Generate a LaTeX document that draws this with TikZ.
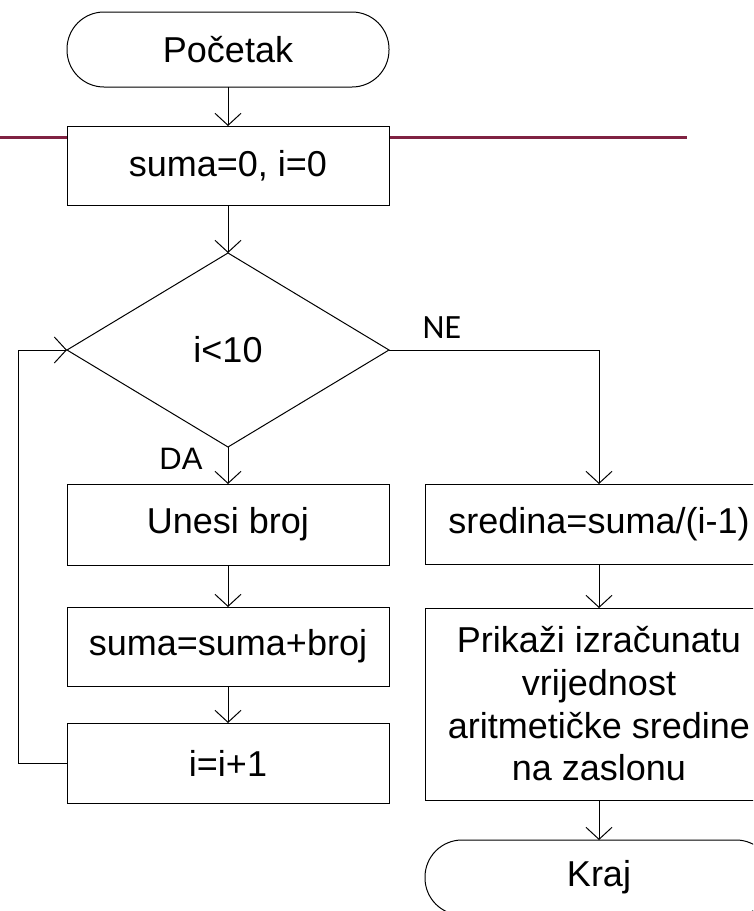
\documentclass[tikz,border=0pt]{standalone}
\usepackage{fontspec}
\setmainfont{Liberation Sans}
\newfontfamily\labelfont{Carlito}
\usetikzlibrary{shapes.geometric,arrows.meta}
\definecolor{rulered}{RGB}{128,34,66}
\tikzset{
  x=1pt, y=-1pt,
  every node/.style={inner sep=0pt, outer sep=0pt},
  flowtext/.style={font=\fontsize{36}{42.7}\selectfont, align=center},
  procbox/.style={draw, fill=white, line width=1pt, flowtext},
  termbox/.style={procbox, rounded corners=37pt},
  decbox/.style={draw, fill=white, line width=1pt, diamond, flowtext,
    minimum width=322pt, minimum height=194pt},
  flow/.style={line width=1pt, -{Straight Barb[length=12pt,width=26pt]}},
  branchlabel/.style={font=\labelfont\fontsize{34}{40}\selectfont},
  yeslabel/.style={font=\fontsize{31}{36}\selectfont},
}
\begin{document}
\begin{tikzpicture}
\useasboundingbox (0,0) rectangle (753,911);
\clip (0,0) rectangle (753,911);

% horizontal rule running behind the first process box
\draw[rulered, line width=3pt] (0,137) -- (687,137);

% left column
\node[termbox, minimum width=322pt, minimum height=75pt] (start) at (228,49.5) {Početak};
\node[procbox, minimum width=322pt, minimum height=79pt] (init) at (228,165.5) {suma=0, i=0};
\node[decbox] (cond) at (228,350) {i<10};
\node[procbox, minimum width=322pt, minimum height=81pt] (input) at (228,524.5) {Unesi broj};
\node[procbox, minimum width=322pt, minimum height=79pt] (sum) at (228,646.5) {suma=suma+broj};
\node[procbox, minimum width=322pt, minimum height=80pt] (inc) at (228,763) {i=i+1};

% right column
\node[procbox, minimum width=348pt, minimum height=80pt] (avg) at (599,524) {sredina=suma/(i-1)};
\node[procbox, minimum width=348pt, minimum height=192pt] (show) at (599,704)
  {Prikaži izračunatu\\vrijednost\\aritmetičke sredine\\na zaslonu};
\node[termbox, minimum width=348pt, minimum height=75pt] (stop) at (599,877.5) {Kraj};

% loop and branch corners
\coordinate (loopdown) at (18,763);
\coordinate (loopup) at (18,350);
\coordinate (nocorner) at (599,350);

% connectors
\draw[flow] (start.south) -- (init.north);
\draw[flow] (init.south) -- (cond.north);
\draw[flow] (cond.south) -- (input.north);
\draw[flow] (input.south) -- (sum.north);
\draw[flow] (sum.south) -- (inc.north);
\draw[flow] (inc.west) -- (loopdown) -- (loopup) -- (cond.west);
\draw[flow] (cond.east) -- (nocorner) -- (avg.north);
\draw[flow] (avg.south) -- (show.north);
\draw[flow] (show.south) -- (stop.north);

% branch labels
\node[yeslabel] (yes) at (181,459) {DA};
\node[branchlabel] (no) at (442,328) {NE};
\end{tikzpicture}
\end{document}
